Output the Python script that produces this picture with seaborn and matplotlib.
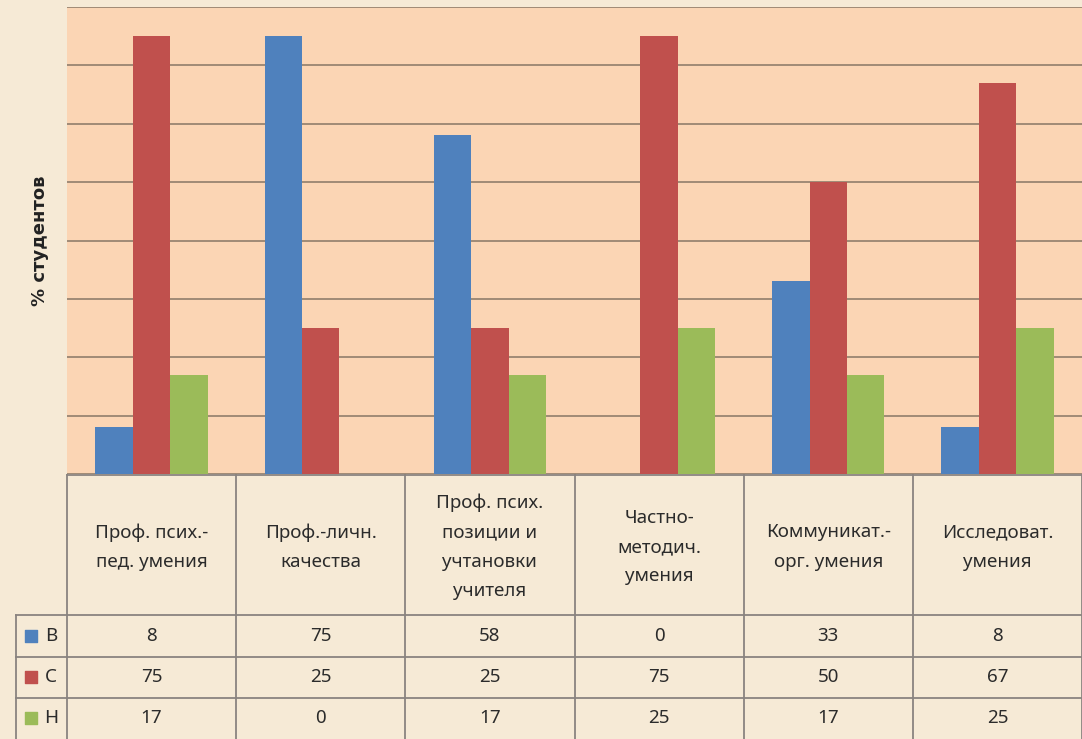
import matplotlib
matplotlib.use("Agg")
import matplotlib.pyplot as plt
import pandas as pd
import seaborn as sns

# categories (table header) and series values
categories = [
    "Проф. псих.-\nпед. умения",
    "Проф.-личн.\nкачества",
    "Проф. псих.\nпозиции и\nучтановки\nучителя",
    "Частно-\nметодич.\nумения",
    "Коммуникат.-\nорг. умения",
    "Исследоват.\nумения",
]
series_names = ["В", "С", "Н"]
values_b = [8, 75, 58, 0, 33, 8]
values_c = [75, 25, 25, 75, 50, 67]
values_h = [17, 0, 17, 25, 17, 25]
colors = ["#4F81BD", "#C0504D", "#9BBB59"]

W, H = 1082, 739
PLOT_L, PLOT_T, PLOT_B = 67, 7, 474
TABLE_L = 15
ROW_LINES = [615, 657, 698]

sns.set_theme(style="white")
plt.rcParams["font.family"] = ["Noto Sans", "DejaVu Sans"]

df = pd.DataFrame({
    "cat": categories * 3,
    "series": [s for s in series_names for _ in categories],
    "value": values_b + values_c + values_h,
})

fig = plt.figure(figsize=(W / 100, H / 100), dpi=100)
fig.patch.set_facecolor("#F6EAD6")

ax = fig.add_axes([PLOT_L / W, 1 - PLOT_B / H, 1 - PLOT_L / W, (PLOT_B - PLOT_T) / H])
ax.set_facecolor("#FBD5B4")
sns.barplot(data=df, x="cat", y="value", hue="series", hue_order=series_names,
            palette=colors, width=0.665, gap=0, saturation=1, ax=ax,
            legend=False, linewidth=0, zorder=3)
ax.set_xlim(-0.5, len(categories) - 0.5)
ax.set_ylim(0, 80)
ax.set_yticks(range(0, 81, 10))
ax.yaxis.grid(True, color="#A08A76", linewidth=1.4, zorder=1)
ax.set_yticklabels([])
ax.set_xticks([])
ax.set_xlabel("")
ax.set_ylabel("")
ax.tick_params(length=0)
for s in ax.spines.values():
    s.set_visible(False)

fig.text(40 / W, 1 - 241 / H, "% студентов", rotation=90, ha="center",
         va="center", fontsize=13, fontweight="bold", color="#222222",
         family=["DejaVu Sans"])

# data table below the plot
n = len(categories)
ax_t = fig.add_axes([TABLE_L / W, 0, 1 - TABLE_L / W, (H - PLOT_B) / H])
ax_t.set_xlim(-0.5 - (PLOT_L - TABLE_L) / ((W - PLOT_L) / n), n - 0.5)
ax_t.set_ylim(H, PLOT_B)
ax_t.axis("off")
left = ax_t.get_xlim()[0]
lc = "#8A8480"
ax_t.plot([-0.5, n - 0.5], [PLOT_B + 0.5, PLOT_B + 0.5], color=lc, lw=1.3)
for y in ROW_LINES:
    ax_t.plot([left, n - 0.5], [y, y], color=lc, lw=1.3)
for i in range(n + 1):
    ax_t.plot([i - 0.5, i - 0.5], [PLOT_B, H], color=lc, lw=1.3)
ax_t.plot([left + 0.005, left + 0.005], [ROW_LINES[0], H], color=lc, lw=1.3)

for i, cat in enumerate(categories):
    ax_t.text(i, 547, cat, ha="center", va="center", fontsize=13.5,
              linespacing=1.8, color="#2b2b2b")

row_centers = [636, 677, 718]
for vals, name, col, yc in zip([values_b, values_c, values_h], series_names,
                               colors, row_centers):
    ax_t.scatter([left + 0.095], [yc], marker="s", s=80, color=col)
    ax_t.text(left + 0.215, yc, name, ha="center", va="center", fontsize=13.5,
              color="#2b2b2b")
    for i, v in enumerate(vals):
        ax_t.text(i, yc, str(v), ha="center", va="center", fontsize=13.5,
                  color="#2b2b2b")

fig.savefig("out.png", dpi=100, facecolor=fig.get_facecolor())
